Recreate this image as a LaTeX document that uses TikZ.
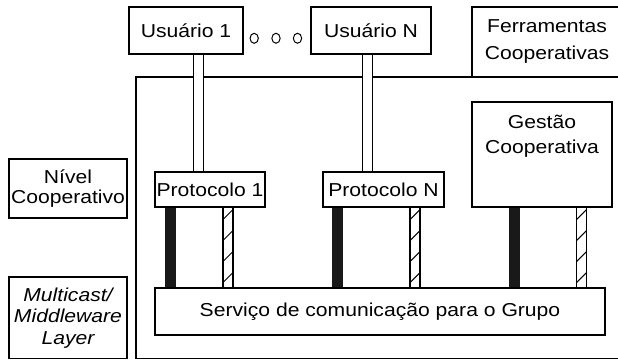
\documentclass[tikz,border=0pt]{standalone}
\usepackage{fontspec}
\setmainfont{Liberation Sans}
\usetikzlibrary{calc,shapes.geometric}
\pgfdeclarelayer{back}
\pgfdeclarelayer{mid}
\pgfsetlayers{back,mid,main}
\newcommand{\hs}[1]{\scalebox{1.13}[1]{#1}}
\tikzset{
  x=1pt, y=-1pt,
  box/.style={draw, line width=1.2pt, fill=white, inner sep=0pt, align=center,
    font=\fontsize{18.7}{22}\selectfont},
  lbl/.style={inner sep=0pt, align=center, font=\fontsize{18.7}{22}\selectfont},
  frameline/.style={line width=1.2pt},
  pipe/.style={line width=1.2pt, double=white, double distance=8.8pt},
  solidbar/.style={line width=11pt, black!90},
  hatchbar/.style={draw, line width=1.2pt, fill=white, path picture={
     \foreach \k in {0,...,4}
       \draw[line width=0.9pt] ($(path picture bounding box.north west)+(0,12+21*\k)$) -- ++(10,-10);
  }},
  dot/.style={draw, line width=1pt, ellipse, minimum width=8.3pt, minimum height=10pt, inner sep=0pt},
}
\begin{document}
\begin{tikzpicture}
\useasboundingbox (0,0) rectangle (618,360);
\clip (0,0) rectangle (618,360);

% boxes
\node[box, minimum width=114pt, minimum height=47pt] (u1) at (186,30.5) {\hs{Usuário 1}};
\node[box, minimum width=120pt, minimum height=47pt] (uN) at (371,30.5) {\hs{Usuário N}};
\node[box, minimum width=110pt, minimum height=35pt] (p1) at (210,189.5) {\hs{Protocolo 1}};
\node[box, minimum width=121pt, minimum height=35pt] (pN) at (383.5,189.5) {\hs{Protocolo N}};
\node[box, minimum width=140pt, minimum height=105pt] (gest) at (542,154.5) {};
\node[box, minimum width=450pt, minimum height=47pt] (serv) at (380,311.5) {\hs{Serviço de comunicação para o Grupo}};
\node[lbl, anchor=north, font=\fontsize{18.7}{25}\selectfont] (gestl) at (542,114.5) {\hs{Gestão}\\\hs{Cooperativa}};
\node[box, minimum width=150pt, minimum height=70pt, font=\fontsize{18.7}{27}\selectfont] (ferr) at (547,42) {\hs{Ferramentas}\\\hs{Cooperativas}};
\node[box, minimum width=118pt, minimum height=59pt, font=\fontsize{18.7}{19.5}\selectfont] (niv) at (68,188.5) {\hs{Nível}\\\hs{Cooperativo}};
\node[box, minimum width=118pt, minimum height=81.5pt, font=\fontsize{18.7}{21.5}\selectfont\itshape] (mc) at (68,317.75) {\hs{Multicast/}\\\hs{Middleware}\\\hs{Layer}};

% dots
\node[dot] (d1) at (254.2,38.3) {};
\node[dot] (d2) at (276,38.3) {};
\node[dot] (d3) at (297.5,38.3) {};

% x positions of pipes and bars
\coordinate (px1) at (198.3,0);
\coordinate (pxN) at (367.2,0);
\coordinate (b1) at (170.5,0);
\coordinate (bN) at (337.5,0);
\coordinate (bG) at (514,0);
\coordinate (h1) at (228,0);
\coordinate (hN) at (415,0);
\coordinate (hG) at (581.5,0);

\begin{pgfonlayer}{back}
  \fill[white] (0,0) rectangle (618,360);
  \draw[frameline] (625,77) -- (136,77) -- (136,358.5) -- (625,358.5);
\end{pgfonlayer}

\begin{pgfonlayer}{mid}
  % pipes
  \draw[pipe] (u1.south -| px1) -- (p1.north -| px1);
  \draw[pipe] (uN.south -| pxN) -- (pN.north -| pxN);
  % solid bars
  \draw[solidbar] (p1.south -| b1) -- (serv.north -| b1);
  \draw[solidbar] (pN.south -| bN) -- (serv.north -| bN);
  \draw[solidbar] (gest.south -| bG) -- (serv.north -| bG);
  % hatched bars
  \draw[hatchbar] ($(p1.south -| h1)+(-5,0)$) rectangle ($(serv.north -| h1)+(5,0)$);
  \draw[hatchbar] ($(pN.south -| hN)+(-5,0)$) rectangle ($(serv.north -| hN)+(5,0)$);
  \draw[hatchbar] ($(gest.south -| hG)+(-5,0)$) rectangle ($(serv.north -| hG)+(5,0)$);
\end{pgfonlayer}
\end{tikzpicture}
\end{document}
